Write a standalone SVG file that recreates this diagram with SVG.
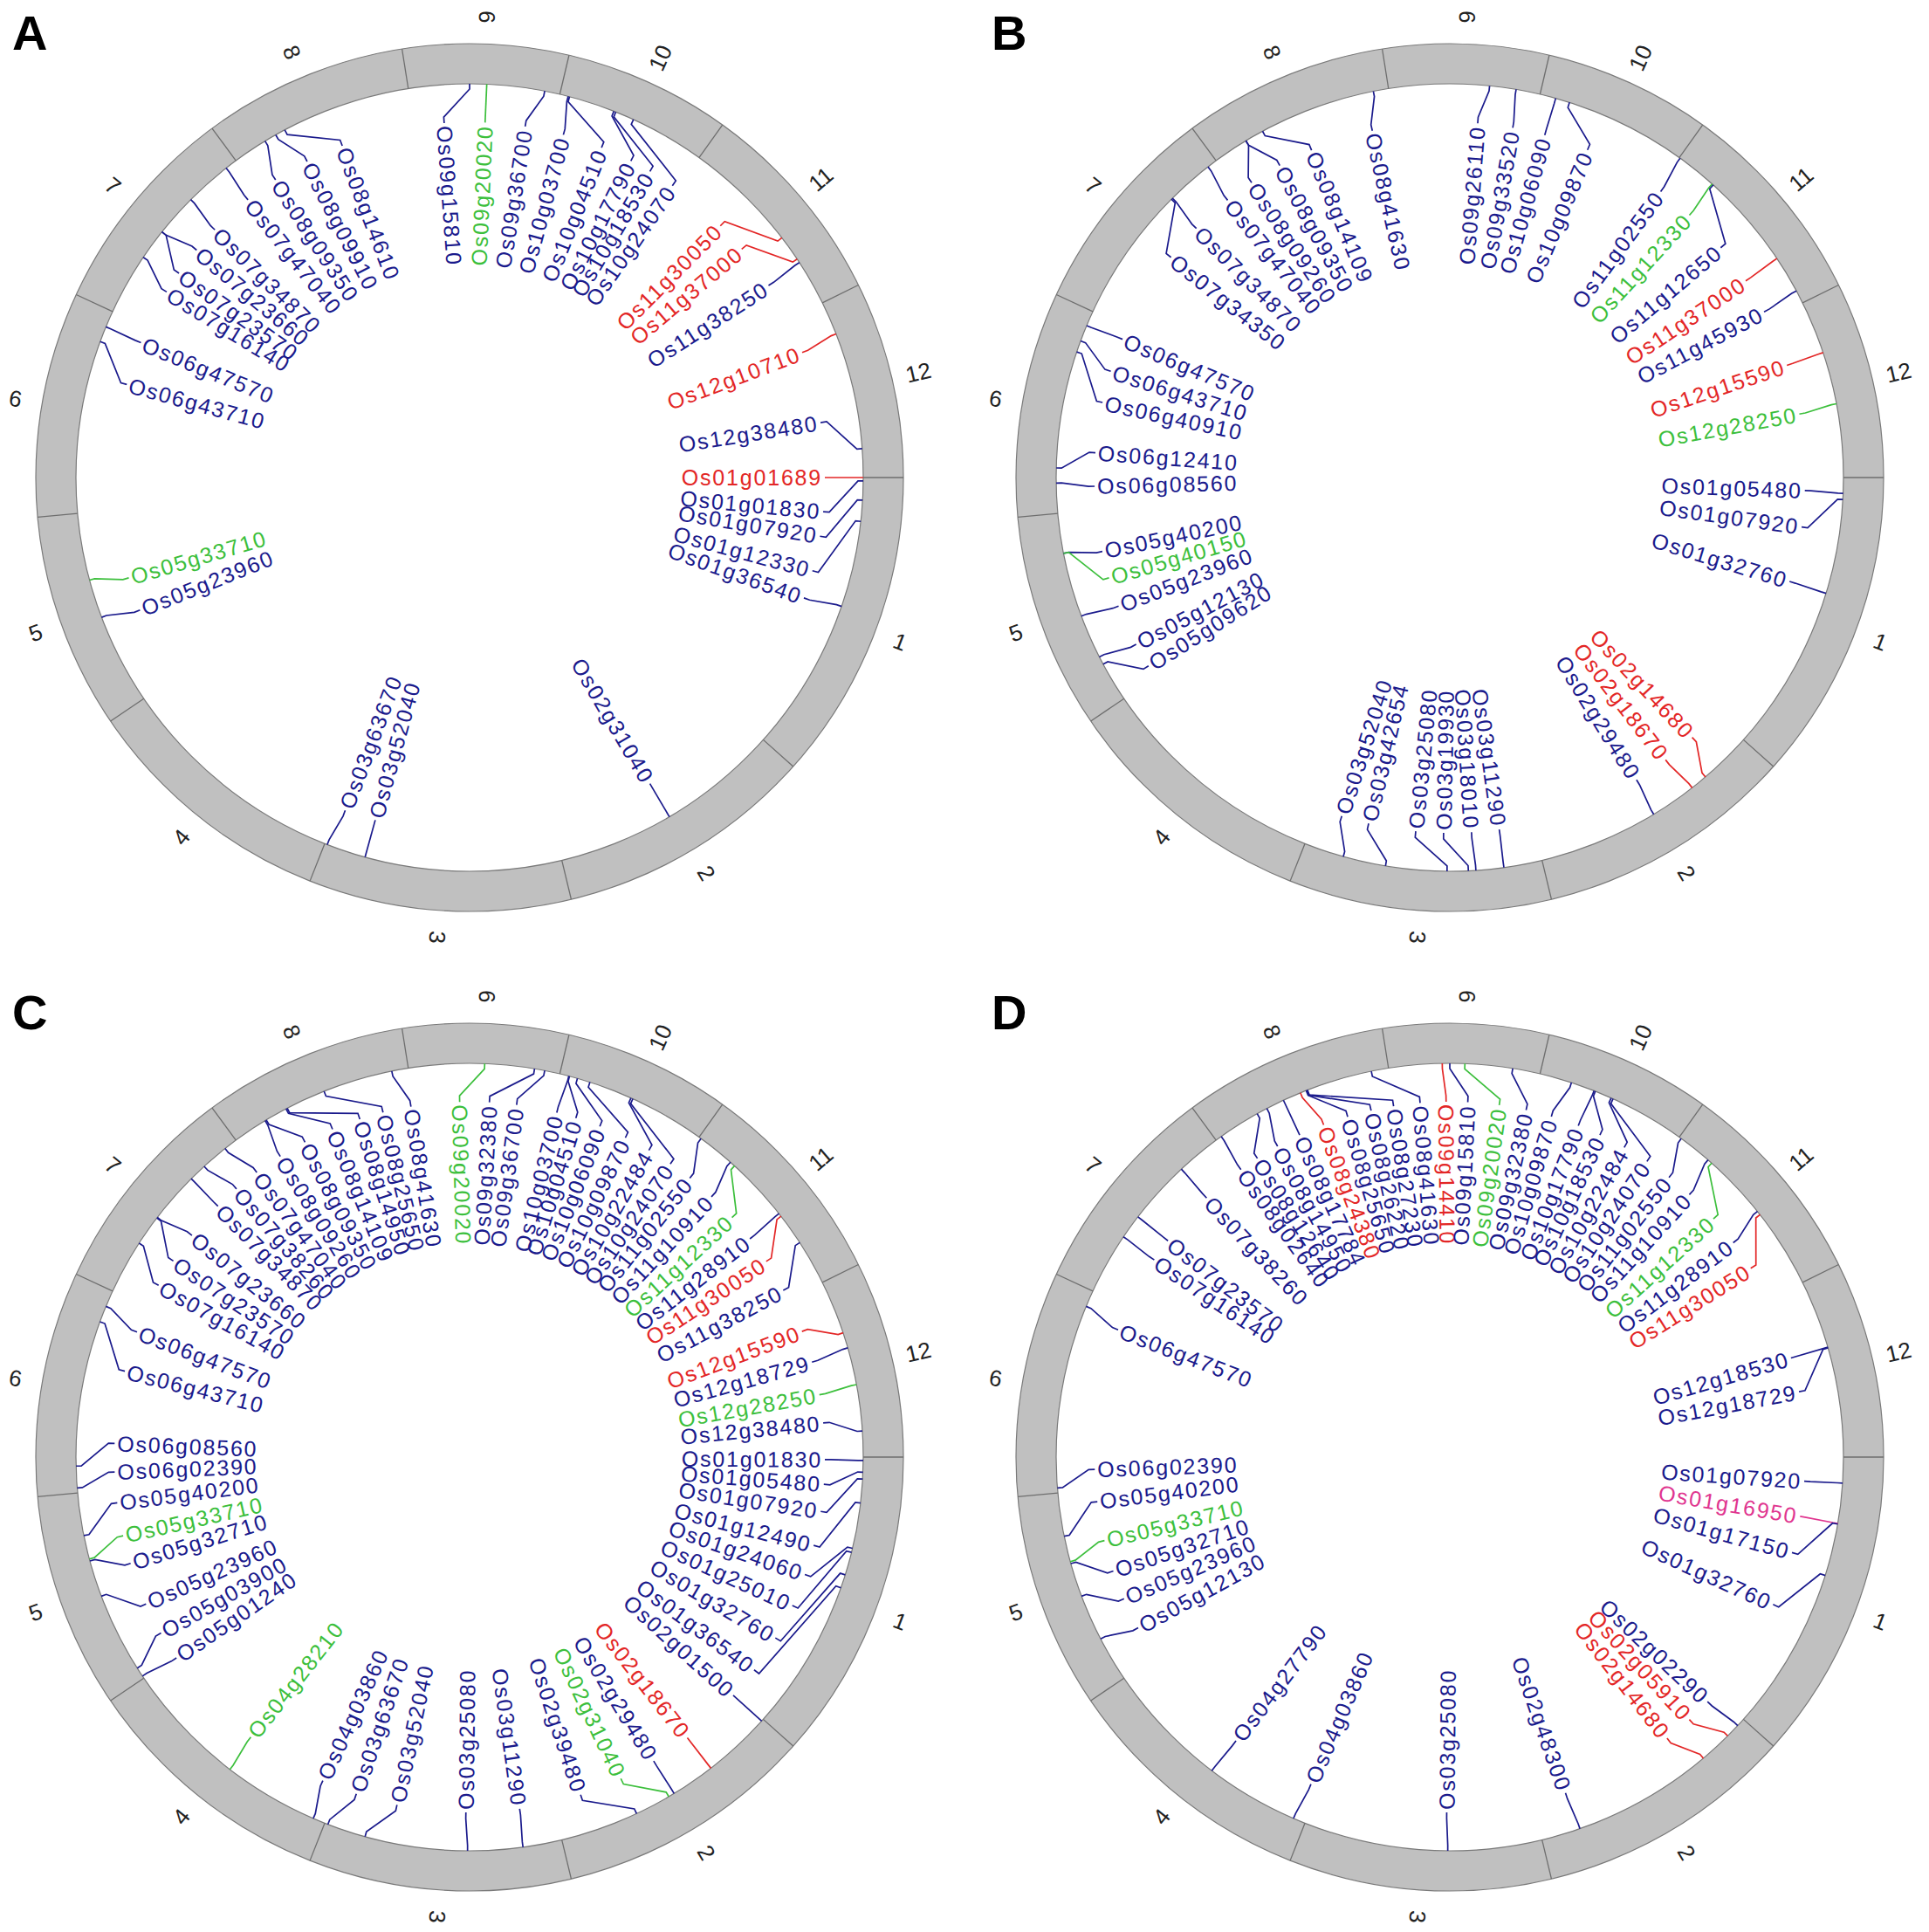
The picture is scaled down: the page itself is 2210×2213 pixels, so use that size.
<svg xmlns="http://www.w3.org/2000/svg" xmlns:xlink="http://www.w3.org/1999/xlink" width="2210" height="2213" viewBox="0 0 2210 2213">
<style>
text{font-family:"Liberation Sans",Arial,sans-serif}
.t{font-size:25px;dominant-baseline:central;letter-spacing:1.8px}
.R{text-anchor:end}.L{text-anchor:start}
.b{fill:#1a1a8c}.r{fill:#e32626}.g{fill:#3cbf3c}.m{fill:#e0358f}
path.c{fill:none;stroke-width:1.7}
.kb{stroke:#1a1a8c}.kr{stroke:#e32626}.kg{stroke:#3cbf3c}.km{stroke:#e0358f}
.pl{font-size:56px;font-weight:bold;fill:#000}
</style>
<defs>
<g id="ring">
<circle r="474" fill="none" stroke="#c0c0c0" stroke-width="46"/>
<circle r="451" fill="none" stroke="#7a7a7a" stroke-width="1.2"/>
<circle r="497" fill="none" stroke="#7a7a7a" stroke-width="1.2"/>
<g stroke="#6e6e6e" stroke-width="1.3">
<path d="M451 0H497"/>
<path d="M451 0H497" transform="rotate(41.76)"/>
<path d="M451 0H497" transform="rotate(76.45)"/>
<path d="M451 0H497" transform="rotate(111.59)"/>
<path d="M451 0H497" transform="rotate(145.85)"/>
<path d="M451 0H497" transform="rotate(174.77)"/>
<path d="M451 0H497" transform="rotate(204.93)"/>
<path d="M451 0H497" transform="rotate(233.59)"/>
<path d="M451 0H497" transform="rotate(261.04)"/>
<path d="M451 0H497" transform="rotate(283.25)"/>
<path d="M451 0H497" transform="rotate(305.65)"/>
<path d="M451 0H497" transform="rotate(333.66)"/>
</g>
<g font-family="Liberation Sans, Arial, sans-serif" font-size="26" fill="#222" text-anchor="middle" dominant-baseline="central">
<text transform="rotate(20.88) translate(528 0)">1</text>
<text transform="rotate(59.1) translate(528 0)">2</text>
<text transform="rotate(94.02) translate(528 0)">3</text>
<text transform="rotate(128.72) translate(528 0) rotate(180)">4</text>
<text transform="rotate(160.31) translate(528 0) rotate(180)">5</text>
<text transform="rotate(189.85) translate(528 0) rotate(180)">6</text>
<text transform="rotate(219.26) translate(528 0) rotate(180)">7</text>
<text transform="rotate(247.31) translate(528 0) rotate(180)">8</text>
<text transform="rotate(272.14) translate(528 0)">9</text>
<text transform="rotate(294.45) translate(528 0)">10</text>
<text transform="rotate(319.65) translate(528 0)">11</text>
<text transform="rotate(346.83) translate(528 0)">12</text>
</g>
</g>
</defs>
<rect width="2210" height="2213" fill="#fff"/>

<text class="pl" x="14" y="57">A</text>
<text class="pl" x="1136" y="57">B</text>
<text class="pl" x="14" y="1179">C</text>
<text class="pl" x="1136" y="1179">D</text>

<!-- PANEL A -->
<g id="panelA" transform="translate(538 547)">
<use xlink:href="#ring" href="#ring"/>
<g id="A-links">
<path class="c kb" transform="rotate(270)" d="M451 0H445L412.9 -29.6L406 -29.1"/>
<path class="c kg" transform="rotate(272.5)" d="M451 0H407"/>
<path class="c kb" transform="rotate(281)" d="M451 0H445L413.7 -14.4L406.8 -14.2"/>
<path class="c kb" transform="rotate(284.5)" d="M451 0H445L414 5.8L407 5.7"/>
<path class="c kb" transform="rotate(284.7)" d="M451 0H445L410.8 51.2L403.9 50.3"/>
<path class="c kb" transform="rotate(291.5)" d="M451 0H445L412.1 39.7L405.1 39"/>
<path class="c kb" transform="rotate(291.8)" d="M451 0H445L409.2 62.6L402.3 61.6"/>
<path class="c kb" transform="rotate(294.6)" d="M451 0H445L407.5 73.3L400.6 72.1"/>
<path class="c kr" transform="rotate(322.5)" d="M451 0H445L410.4 -54.8L403.4 -53.8"/>
<path class="c kr" transform="rotate(326.3)" d="M451 0H445L411.5 -45.4L404.5 -44.7"/>
<path class="c kb" transform="rotate(326.9)" d="M451 0H445L414 2.9L407 2.8"/>
<path class="c kr" transform="rotate(338.6)" d="M451 0H445L414 5.8L407 5.7"/>
<path class="c kb" transform="rotate(355.8)" d="M451 0H445L412.6 -33.9L405.6 -33.3"/>
<path class="c kr" d="M451 0H407"/>
<path class="c kb" transform="rotate(0.5)" d="M451 0H445L412.4 36.1L405.4 35.5"/>
<path class="c kb" transform="rotate(3.3)" d="M451 0H445L411.6 44.7L404.6 44"/>
<path class="c kb" transform="rotate(6.4)" d="M451 0H445L409.1 63.3L402.2 62.3"/>
<path class="c kb" transform="rotate(19.1)" d="M451 0H445L414 5.1L407 5"/>
<path class="c kb" transform="rotate(59.5)" d="M451 0H407"/>
<path class="c kb" transform="rotate(105.4)" d="M451 0H407"/>
<path class="c kb" transform="rotate(111.2)" d="M451 0H445L414 -5.1L407 -5"/>
<path class="c kb" transform="rotate(159.2)" d="M451 0H445L413.9 -7.9L406.9 -7.8"/>
<path class="c kg" transform="rotate(164.9)" d="M451 0H445L413.9 -9.4L406.9 -9.2"/>
<path class="c kb" transform="rotate(200.2)" d="M451 0H445L412.4 -36.1L405.4 -35.5"/>
<path class="c kb" transform="rotate(202.5)" d="M451 0H445L414 -1.4L407 -1.4"/>
<path class="c kb" transform="rotate(214)" d="M451 0H445L413.6 -18.1L406.6 -17.8"/>
<path class="c kb" transform="rotate(218.6)" d="M451 0H445L413.2 -25.3L406.2 -24.8"/>
<path class="c kb" transform="rotate(218.6)" d="M451 0H445L413.9 8.7L406.9 8.5"/>
<path class="c kb" transform="rotate(224.9)" d="M451 0H445L414 -5.1L407 -5"/>
<path class="c kb" transform="rotate(231.8)" d="M451 0H445L414 -2.9L407 -2.8"/>
<path class="c kb" transform="rotate(238.7)" d="M451 0H445L413.8 -13L406.8 -12.8"/>
<path class="c kb" transform="rotate(240.5)" d="M451 0H445L413.7 16.6L406.7 16.3"/>
<path class="c kb" transform="rotate(242)" d="M451 0H445L410.9 50.5L404 49.6"/>
</g>
<g id="A-Os09g15810"><text class="t L b" transform="rotate(85.9)" x="-404">Os09g15810</text></g>
<g id="A-Os09g20020"><text class="t R g" transform="rotate(-87.5)" x="404">Os09g20020</text></g>
<g id="A-Os09g36700"><text class="t R b" transform="rotate(-81)" x="404">Os09g36700</text></g>
<g id="A-Os10g03700"><text class="t R b" transform="rotate(-74.7)" x="404">Os10g03700</text></g>
<g id="A-Os10g04510"><text class="t R b" transform="rotate(-68.2)" x="404">Os10g04510</text></g>
<g id="A-Os10g17790"><text class="t R b" transform="rotate(-63)" x="404">Os10g17790</text></g>
<g id="A-Os10g18530"><text class="t R b" transform="rotate(-59.5)" x="404">Os10g18530</text></g>
<g id="A-Os10g24070"><text class="t R b" transform="rotate(-55.2)" x="404">Os10g24070</text></g>
<g id="A-Os11g30050"><text class="t R r" transform="rotate(-45.1)" x="404">Os11g30050</text></g>
<g id="A-Os11g37000"><text class="t R r" transform="rotate(-40)" x="404">Os11g37000</text></g>
<g id="A-Os11g38250"><text class="t R b" transform="rotate(-32.7)" x="404">Os11g38250</text></g>
<g id="A-Os12g10710"><text class="t R r" transform="rotate(-20.6)" x="404">Os12g10710</text></g>
<g id="A-Os12g38480"><text class="t R b" transform="rotate(-8.9)" x="404">Os12g38480</text></g>
<g id="A-Os01g01689"><text class="t R r" x="404">Os01g01689</text></g>
<g id="A-Os01g01830"><text class="t R b" transform="rotate(5.5)" x="404">Os01g01830</text></g>
<g id="A-Os01g07920"><text class="t R b" transform="rotate(9.5)" x="404">Os01g07920</text></g>
<g id="A-Os01g12330"><text class="t R b" transform="rotate(15.2)" x="404">Os01g12330</text></g>
<g id="A-Os01g36540"><text class="t R b" transform="rotate(19.8)" x="404">Os01g36540</text></g>
<g id="A-Os02g31040"><text class="t R b" transform="rotate(59.5)" x="404">Os02g31040</text></g>
<g id="A-Os03g52040"><text class="t L b" transform="rotate(-74.6)" x="-404">Os03g52040</text></g>
<g id="A-Os03g63670"><text class="t L b" transform="rotate(-69.5)" x="-404">Os03g63670</text></g>
<g id="A-Os05g23960"><text class="t L b" transform="rotate(-21.9)" x="-404">Os05g23960</text></g>
<g id="A-Os05g33710"><text class="t L g" transform="rotate(-16.4)" x="-404">Os05g33710</text></g>
<g id="A-Os06g43710"><text class="t L b" transform="rotate(15.2)" x="-404">Os06g43710</text></g>
<g id="A-Os06g47570"><text class="t L b" transform="rotate(22.3)" x="-404">Os06g47570</text></g>
<g id="A-Os07g16140"><text class="t L b" transform="rotate(31.5)" x="-404">Os07g16140</text></g>
<g id="A-Os07g23570"><text class="t L b" transform="rotate(35.1)" x="-404">Os07g23570</text></g>
<g id="A-Os07g23660"><text class="t L b" transform="rotate(39.8)" x="-404">Os07g23660</text></g>
<g id="A-Os07g34870"><text class="t L b" transform="rotate(44.2)" x="-404">Os07g34870</text></g>
<g id="A-Os07g47040"><text class="t L b" transform="rotate(51.4)" x="-404">Os07g47040</text></g>
<g id="A-Os08g09350"><text class="t L b" transform="rotate(56.9)" x="-404">Os08g09350</text></g>
<g id="A-Os08g09910"><text class="t L b" transform="rotate(62.8)" x="-404">Os08g09910</text></g>
<g id="A-Os08g14610"><text class="t L b" transform="rotate(69)" x="-404">Os08g14610</text></g>
</g>

<!-- PANEL B -->
<g id="panelB" transform="translate(1661 547)">
<use xlink:href="#ring" href="#ring"/>
<g id="B-links">
<path class="c kb" transform="rotate(258.8)" d="M451 0H445L413.9 -10.1L406.9 -9.9"/>
<path class="c kb" transform="rotate(241.6)" d="M451 0H445L412.1 39.7L405.1 39"/>
<path class="c kb" transform="rotate(238.8)" d="M451 0H445L413.6 18.8L406.6 18.5"/>
<path class="c kb" transform="rotate(238.8)" d="M451 0H445L413.5 -19.5L406.5 -19.2"/>
<path class="c kb" transform="rotate(232.1)" d="M451 0H445L414 -5.8L407 -5.7"/>
<path class="c kb" transform="rotate(225.2)" d="M451 0H445L414 -5.1L407 -5"/>
<path class="c kb" transform="rotate(225)" d="M451 0H445L411.2 -48.3L404.2 -47.5"/>
<path class="c kb" transform="rotate(202.7)" d="M451 0H445L414 1.4L407 1.4"/>
<path class="c kb" transform="rotate(200.3)" d="M451 0H445L413.5 -20.9L406.5 -20.6"/>
<path class="c kb" transform="rotate(198.6)" d="M451 0H445L411.4 -46.1L404.5 -45.4"/>
<path class="c kb" transform="rotate(181.4)" d="M451 0H445L413.6 18.8L406.6 18.5"/>
<path class="c kb" transform="rotate(179.2)" d="M451 0H445L414 -4.3L407 -4.3"/>
<path class="c kb" transform="rotate(168.9)" d="M451 0H445L413.9 -6.5L406.9 -6.4"/>
<path class="c kg" transform="rotate(168.9)" d="M451 0H445L412.2 -38.2L405.3 -37.6"/>
<path class="c kb" transform="rotate(159.4)" d="M451 0H445L414 -4.3L407 -4.3"/>
<path class="c kb" transform="rotate(152.9)" d="M451 0H445L413.9 -6.5L406.9 -6.4"/>
<path class="c kb" transform="rotate(151.7)" d="M451 0H445L413.1 -26.7L406.2 -26.3"/>
<path class="c kb" transform="rotate(105.7)" d="M451 0H445L413.7 14.4L406.8 14.2"/>
<path class="c kb" transform="rotate(99.4)" d="M451 0H445L413.1 27.4L406.1 27"/>
<path class="c kb" transform="rotate(90.4)" d="M451 0H445L412.4 36.8L405.4 36.2"/>
<path class="c kb" transform="rotate(87.3)" d="M451 0H445L413.1 26.7L406.2 26.3"/>
<path class="c kb" transform="rotate(86.2)" d="M451 0H445L414 2.2L407 2.1"/>
<path class="c kb" transform="rotate(82.1)" d="M451 0H445L414 -0.7L407 -0.7"/>
<path class="c kb" transform="rotate(58.8)" d="M451 0H445L414 -3.6L407 -3.6"/>
<path class="c kr" transform="rotate(52)" d="M451 0H445L414 4.3L407 4.3"/>
<path class="c kr" transform="rotate(49.5)" d="M451 0H445L413.6 -18.1L406.6 -17.8"/>
<path class="c kb" transform="rotate(17.1)" d="M451 0H445L414 -0.7L407 -0.7"/>
<path class="c kb" transform="rotate(3.2)" d="M451 0H445L412.5 34.6L405.6 34.1"/>
<path class="c kb" transform="rotate(2.3)" d="M451 0H445L414 -1.4L407 -1.4"/>
<path class="c kg" transform="rotate(349.2)" d="M451 0H445L414 3.6L407 3.6"/>
<path class="c kr" transform="rotate(341.5)" d="M451 0H445L414 0.7L407 0.7"/>
<path class="c kb" transform="rotate(331.7)" d="M451 0H445L414 3.6L407 3.6"/>
<path class="c kr" transform="rotate(326.2)" d="M451 0H445L414 1.4L407 1.4"/>
<path class="c kb" transform="rotate(312)" d="M451 0H445L410.3 55.5L403.3 54.5"/>
<path class="c kg" transform="rotate(311.8)" d="M451 0H445L414 4.3L407 4.3"/>
<path class="c kb" transform="rotate(305.8)" d="M451 0H445L414 4.3L407 4.3"/>
<path class="c kb" transform="rotate(287.7)" d="M451 0H445L412.4 36.8L405.4 36.2"/>
<path class="c kb" transform="rotate(285.6)" d="M451 0H445L414 -0.7L407 -0.7"/>
<path class="c kb" transform="rotate(279.7)" d="M451 0H445L414 3.6L407 3.6"/>
<path class="c kb" transform="rotate(275.8)" d="M451 0H445L413.9 -9.4L406.9 -9.2"/>
</g>
<g id="B-Os08g41630"><text class="t L b" transform="rotate(77.4)" x="-404">Os08g41630</text></g>
<g id="B-Os08g14109"><text class="t L b" transform="rotate(67.1)" x="-404">Os08g14109</text></g>
<g id="B-Os08g09350"><text class="t L b" transform="rotate(61.4)" x="-404">Os08g09350</text></g>
<g id="B-Os08g09260"><text class="t L b" transform="rotate(56.1)" x="-404">Os08g09260</text></g>
<g id="B-Os07g47040"><text class="t L b" transform="rotate(51.3)" x="-404">Os07g47040</text></g>
<g id="B-Os07g34870"><text class="t L b" transform="rotate(44.5)" x="-404">Os07g34870</text></g>
<g id="B-Os07g34350"><text class="t L b" transform="rotate(38.3)" x="-404">Os07g34350</text></g>
<g id="B-Os06g47570"><text class="t L b" transform="rotate(22.9)" x="-404">Os06g47570</text></g>
<g id="B-Os06g43710"><text class="t L b" transform="rotate(17.4)" x="-404">Os06g43710</text></g>
<g id="B-Os06g40910"><text class="t L b" transform="rotate(12.2)" x="-404">Os06g40910</text></g>
<g id="B-Os06g12410"><text class="t L b" transform="rotate(4)" x="-404">Os06g12410</text></g>
<g id="B-Os06g08560"><text class="t L b" transform="rotate(-1.4)" x="-404">Os06g08560</text></g>
<g id="B-Os05g40200"><text class="t L b" transform="rotate(-12)" x="-404">Os05g40200</text></g>
<g id="B-Os05g40150"><text class="t L g" transform="rotate(-16.4)" x="-404">Os05g40150</text></g>
<g id="B-Os05g23960"><text class="t L b" transform="rotate(-21.2)" x="-404">Os05g23960</text></g>
<g id="B-Os05g12130"><text class="t L b" transform="rotate(-28)" x="-404">Os05g12130</text></g>
<g id="B-Os05g09620"><text class="t L b" transform="rotate(-32)" x="-404">Os05g09620</text></g>
<g id="B-Os03g52040"><text class="t L b" transform="rotate(-72.3)" x="-404">Os03g52040</text></g>
<g id="B-Os03g42654"><text class="t L b" transform="rotate(-76.8)" x="-404">Os03g42654</text></g>
<g id="B-Os03g25080"><text class="t L b" transform="rotate(-84.5)" x="-404">Os03g25080</text></g>
<g id="B-Os03g19930"><text class="t L b" transform="rotate(-89)" x="-404">Os03g19930</text></g>
<g id="B-Os03g18010"><text class="t R b" transform="rotate(86.5)" x="404">Os03g18010</text></g>
<g id="B-Os03g11290"><text class="t R b" transform="rotate(82)" x="404">Os03g11290</text></g>
<g id="B-Os02g29480"><text class="t R b" transform="rotate(58.3)" x="404">Os02g29480</text></g>
<g id="B-Os02g18670"><text class="t R r" transform="rotate(52.6)" x="404">Os02g18670</text></g>
<g id="B-Os02g14680"><text class="t R r" transform="rotate(47)" x="404">Os02g14680</text></g>
<g id="B-Os01g32760"><text class="t R b" transform="rotate(17)" x="404">Os01g32760</text></g>
<g id="B-Os01g07920"><text class="t R b" transform="rotate(8)" x="404">Os01g07920</text></g>
<g id="B-Os01g05480"><text class="t R b" transform="rotate(2.1)" x="404">Os01g05480</text></g>
<g id="B-Os12g28250"><text class="t R g" transform="rotate(-10.3)" x="404">Os12g28250</text></g>
<g id="B-Os12g15590"><text class="t R r" transform="rotate(-18.4)" x="404">Os12g15590</text></g>
<g id="B-Os11g45930"><text class="t R b" transform="rotate(-27.8)" x="404">Os11g45930</text></g>
<g id="B-Os11g37000"><text class="t R r" transform="rotate(-33.6)" x="404">Os11g37000</text></g>
<g id="B-Os11g12650"><text class="t R b" transform="rotate(-40.3)" x="404">Os11g12650</text></g>
<g id="B-Os11g12330"><text class="t R g" transform="rotate(-47.6)" x="404">Os11g12330</text></g>
<g id="B-Os11g02550"><text class="t R b" transform="rotate(-53.6)" x="404">Os11g02550</text></g>
<g id="B-Os10g09870"><text class="t R b" transform="rotate(-67.2)" x="404">Os10g09870</text></g>
<g id="B-Os10g06090"><text class="t R b" transform="rotate(-74.5)" x="404">Os10g06090</text></g>
<g id="B-Os09g33520"><text class="t R b" transform="rotate(-79.8)" x="404">Os09g33520</text></g>
<g id="B-Os09g26110"><text class="t R b" transform="rotate(-85.5)" x="404">Os09g26110</text></g>
</g>

<!-- PANEL C -->
<g id="panelC" transform="translate(538 1669)">
<use xlink:href="#ring" href="#ring"/>
<g id="C-links">
<path class="c kg" transform="rotate(272.2)" d="M451 0H445L413.1 -27.4L406.1 -27"/>
<path class="c kb" transform="rotate(258.6)" d="M451 0H445L413.8 13.7L406.8 13.5"/>
<path class="c kb" transform="rotate(248.3)" d="M451 0H445L410.4 54.8L403.4 53.8"/>
<path class="c kb" transform="rotate(242.4)" d="M451 0H445L408.2 69L401.3 67.9"/>
<path class="c kb" transform="rotate(242.2)" d="M451 0H445L412.4 36.8L405.4 36.2"/>
<path class="c kb" transform="rotate(238.9)" d="M451 0H445L413.2 25.3L406.2 24.8"/>
<path class="c kb" transform="rotate(238.7)" d="M451 0H445L413.9 -6.5L406.9 -6.4"/>
<path class="c kb" transform="rotate(231.6)" d="M451 0H445L413.8 11.6L406.8 11.4"/>
<path class="c kb" transform="rotate(227.6)" d="M451 0H445L413.9 10.1L406.9 9.9"/>
<path class="c kb" transform="rotate(225)" d="M451 0H445L414 -0.7L407 -0.7"/>
<path class="c kb" transform="rotate(217.5)" d="M451 0H445L413.9 7.9L406.9 7.8"/>
<path class="c kb" transform="rotate(217.4)" d="M451 0H445L413 -28.2L406.1 -27.7"/>
<path class="c kb" transform="rotate(212.9)" d="M451 0H445L413 -28.9L406 -28.4"/>
<path class="c kb" transform="rotate(202.5)" d="M451 0H445L413.8 -13.7L406.8 -13.5"/>
<path class="c kb" transform="rotate(200.1)" d="M451 0H445L411.7 -44L404.7 -43.3"/>
<path class="c kb" transform="rotate(178.7)" d="M451 0H445L413.2 25.3L406.2 24.8"/>
<path class="c kb" transform="rotate(175.5)" d="M451 0H445L413.7 15.2L406.7 14.9"/>
<path class="c kb" transform="rotate(168.5)" d="M451 0H445L412.9 29.6L406 29.1"/>
<path class="c kg" transform="rotate(165)" d="M451 0H445L413.7 15.9L406.7 15.6"/>
<path class="c kb" transform="rotate(164.7)" d="M451 0H445L413.7 -15.2L406.7 -14.9"/>
<path class="c kb" transform="rotate(159.3)" d="M451 0H445L413.1 -26.7L406.2 -26.3"/>
<path class="c kb" transform="rotate(147.6)" d="M451 0H445L413.5 19.5L406.5 19.2"/>
<path class="c kb" transform="rotate(146.2)" d="M451 0H445L414 -4.3L407 -4.3"/>
<path class="c kg" transform="rotate(127.5)" d="M451 0H445L414 3.6L407 3.6"/>
<path class="c kb" transform="rotate(113.4)" d="M451 0H445L413.9 7.2L406.9 7.1"/>
<path class="c kb" transform="rotate(111.1)" d="M451 0H445L413.6 -18.1L406.6 -17.8"/>
<path class="c kb" transform="rotate(105.4)" d="M451 0H445L413.2 -26L406.2 -25.6"/>
<path class="c kb" transform="rotate(90.3)" d="M451 0H445L414 2.2L407 2.1"/>
<path class="c kb" transform="rotate(82.2)" d="M451 0H445L414 -2.2L407 -2.1"/>
<path class="c kb" transform="rotate(64.9)" d="M451 0H445L411 49.7L404.1 48.9"/>
<path class="c kg" transform="rotate(59.6)" d="M451 0H445L412.3 37.5L405.3 36.9"/>
<path class="c kb" transform="rotate(58.7)" d="M451 0H445L414 0.7L407 0.7"/>
<path class="c kr" transform="rotate(52.2)" d="M451 0H407"/>
<path class="c kb" transform="rotate(42.1)" d="M451 0H407"/>
<path class="c kb" transform="rotate(19.4)" d="M451 0H445L395.1 123.8L388.4 121.7"/>
<path class="c kb" transform="rotate(17.4)" d="M451 0H445L403 94.5L396.2 92.9"/>
<path class="c kb" transform="rotate(14)" d="M451 0H445L406.8 76.9L399.9 75.6"/>
<path class="c kb" transform="rotate(13.4)" d="M451 0H445L411.8 42.6L404.8 41.8"/>
<path class="c kb" transform="rotate(6.7)" d="M451 0H445L410.3 55.5L403.3 54.5"/>
<path class="c kb" transform="rotate(3.2)" d="M451 0H445L412 40.4L405.1 39.7"/>
<path class="c kb" transform="rotate(2.2)" d="M451 0H445L413.7 15.9L406.7 15.6"/>
<path class="c kb" transform="rotate(0.5)" d="M451 0H445L414 -0.7L407 -0.7"/>
<path class="c kb" transform="rotate(356.2)" d="M451 0H445L413.8 -12.3L406.8 -12.1"/>
<path class="c kg" transform="rotate(349.4)" d="M451 0H445L414 3.6L407 3.6"/>
<path class="c kb" transform="rotate(343.9)" d="M451 0H445L414 4.3L407 4.3"/>
<path class="c kr" transform="rotate(341.6)" d="M451 0H445L413.7 -16.6L406.7 -16.3"/>
<path class="c kb" transform="rotate(327)" d="M451 0H445L412.4 36.1L405.4 35.5"/>
<path class="c kr" transform="rotate(322.3)" d="M451 0H445L412.8 31L405.9 30.5"/>
<path class="c kb" transform="rotate(321.8)" d="M451 0H445L414 2.2L407 2.1"/>
<path class="c kg" transform="rotate(312.3)" d="M451 0H445L412.2 38.2L405.3 37.6"/>
<path class="c kb" transform="rotate(311.5)" d="M451 0H445L413.9 10.1L406.9 9.9"/>
<path class="c kb" transform="rotate(306)" d="M451 0H445L413.7 16.6L406.7 16.3"/>
<path class="c kb" transform="rotate(294.5)" d="M451 0H445L407.8 71.2L400.9 70"/>
<path class="c kb" transform="rotate(294.2)" d="M451 0H445L411.7 44L404.7 43.3"/>
<path class="c kb" transform="rotate(287.8)" d="M451 0H445L409.8 59L402.8 58.1"/>
<path class="c kb" transform="rotate(285.9)" d="M451 0H445L412 40.4L405.1 39.7"/>
<path class="c kb" transform="rotate(284.7)" d="M451 0H445L413.5 19.5L406.5 19.2"/>
<path class="c kb" transform="rotate(284.6)" d="M451 0H445L414 -2.9L407 -2.8"/>
<path class="c kb" transform="rotate(281)" d="M451 0H445L413.3 -24.6L406.3 -24.1"/>
<path class="c kb" transform="rotate(279.5)" d="M451 0H445L411.5 -45.4L404.5 -44.7"/>
</g>
<g id="C-Os09g20020"><text class="t L g" transform="rotate(88.4)" x="-404">Os09g20020</text></g>
<g id="C-Os08g41630"><text class="t L b" transform="rotate(80.5)" x="-404">Os08g41630</text></g>
<g id="C-Os08g25650"><text class="t L b" transform="rotate(75.9)" x="-404">Os08g25650</text></g>
<g id="C-Os08g14950"><text class="t L b" transform="rotate(72)" x="-404">Os08g14950</text></g>
<g id="C-Os08g14109"><text class="t L b" transform="rotate(67.3)" x="-404">Os08g14109</text></g>
<g id="C-Os08g09350"><text class="t L b" transform="rotate(62.4)" x="-404">Os08g09350</text></g>
<g id="C-Os08g09260"><text class="t L b" transform="rotate(57.8)" x="-404">Os08g09260</text></g>
<g id="C-Os07g47040"><text class="t L b" transform="rotate(53.2)" x="-404">Os07g47040</text></g>
<g id="C-Os07g38260"><text class="t L b" transform="rotate(49)" x="-404">Os07g38260</text></g>
<g id="C-Os07g34870"><text class="t L b" transform="rotate(44.9)" x="-404">Os07g34870</text></g>
<g id="C-Os07g23660"><text class="t L b" transform="rotate(38.6)" x="-404">Os07g23660</text></g>
<g id="C-Os07g23570"><text class="t L b" transform="rotate(33.5)" x="-404">Os07g23570</text></g>
<g id="C-Os07g16140"><text class="t L b" transform="rotate(28.9)" x="-404">Os07g16140</text></g>
<g id="C-Os06g47570"><text class="t L b" transform="rotate(20.6)" x="-404">Os06g47570</text></g>
<g id="C-Os06g43710"><text class="t L b" transform="rotate(14)" x="-404">Os06g43710</text></g>
<g id="C-Os06g08560"><text class="t L b" transform="rotate(2.2)" x="-404">Os06g08560</text></g>
<g id="C-Os06g02390"><text class="t L b" transform="rotate(-2.4)" x="-404">Os06g02390</text></g>
<g id="C-Os05g40200"><text class="t L b" transform="rotate(-7.4)" x="-404">Os05g40200</text></g>
<g id="C-Os05g33710"><text class="t L g" transform="rotate(-12.8)" x="-404">Os05g33710</text></g>
<g id="C-Os05g32710"><text class="t L b" transform="rotate(-17.4)" x="-404">Os05g32710</text></g>
<g id="C-Os05g23960"><text class="t L b" transform="rotate(-24.4)" x="-404">Os05g23960</text></g>
<g id="C-Os05g03900"><text class="t L b" transform="rotate(-29.7)" x="-404">Os05g03900</text></g>
<g id="C-Os05g01240"><text class="t L b" transform="rotate(-34.4)" x="-404">Os05g01240</text></g>
<g id="C-Os04g28210"><text class="t L g" transform="rotate(-52)" x="-404">Os04g28210</text></g>
<g id="C-Os04g03860"><text class="t L b" transform="rotate(-65.6)" x="-404">Os04g03860</text></g>
<g id="C-Os03g63670"><text class="t L b" transform="rotate(-71.4)" x="-404">Os03g63670</text></g>
<g id="C-Os03g52040"><text class="t L b" transform="rotate(-78.2)" x="-404">Os03g52040</text></g>
<g id="C-Os03g25080"><text class="t L b" transform="rotate(-89.4)" x="-404">Os03g25080</text></g>
<g id="C-Os03g11290"><text class="t R b" transform="rotate(81.9)" x="404">Os03g11290</text></g>
<g id="C-Os02g39480"><text class="t R b" transform="rotate(71.8)" x="404">Os02g39480</text></g>
<g id="C-Os02g31040"><text class="t R g" transform="rotate(64.8)" x="404">Os02g31040</text></g>
<g id="C-Os02g29480"><text class="t R b" transform="rotate(58.8)" x="404">Os02g29480</text></g>
<g id="C-Os02g18670"><text class="t R r" transform="rotate(52.2)" x="404">Os02g18670</text></g>
<g id="C-Os02g01500"><text class="t R b" transform="rotate(42.1)" x="404">Os02g01500</text></g>
<g id="C-Os01g36540"><text class="t R b" transform="rotate(36.8)" x="404">Os01g36540</text></g>
<g id="C-Os01g32760"><text class="t R b" transform="rotate(30.6)" x="404">Os01g32760</text></g>
<g id="C-Os01g25010"><text class="t R b" transform="rotate(24.7)" x="404">Os01g25010</text></g>
<g id="C-Os01g24060"><text class="t R b" transform="rotate(19.3)" x="404">Os01g24060</text></g>
<g id="C-Os01g12490"><text class="t R b" transform="rotate(14.4)" x="404">Os01g12490</text></g>
<g id="C-Os01g07920"><text class="t R b" transform="rotate(8.8)" x="404">Os01g07920</text></g>
<g id="C-Os01g05480"><text class="t R b" transform="rotate(4.4)" x="404">Os01g05480</text></g>
<g id="C-Os01g01830"><text class="t R b" transform="rotate(0.4)" x="404">Os01g01830</text></g>
<g id="C-Os12g38480"><text class="t R b" transform="rotate(-5.5)" x="404">Os12g38480</text></g>
<g id="C-Os12g28250"><text class="t R g" transform="rotate(-10.1)" x="404">Os12g28250</text></g>
<g id="C-Os12g18729"><text class="t R b" transform="rotate(-15.5)" x="404">Os12g18729</text></g>
<g id="C-Os12g15590"><text class="t R r" transform="rotate(-20.7)" x="404">Os12g15590</text></g>
<g id="C-Os11g38250"><text class="t R b" transform="rotate(-28)" x="404">Os11g38250</text></g>
<g id="C-Os11g30050"><text class="t R r" transform="rotate(-33.4)" x="404">Os11g30050</text></g>
<g id="C-Os11g28910"><text class="t R b" transform="rotate(-37.9)" x="404">Os11g28910</text></g>
<g id="C-Os11g12330"><text class="t R g" transform="rotate(-42.4)" x="404">Os11g12330</text></g>
<g id="C-Os11g10910"><text class="t R b" transform="rotate(-47.1)" x="404">Os11g10910</text></g>
<g id="C-Os11g02550"><text class="t R b" transform="rotate(-51.7)" x="404">Os11g02550</text></g>
<g id="C-Os10g24070"><text class="t R b" transform="rotate(-55.6)" x="404">Os10g24070</text></g>
<g id="C-Os10g22484"><text class="t R b" transform="rotate(-59.7)" x="404">Os10g22484</text></g>
<g id="C-Os10g09870"><text class="t R b" transform="rotate(-64)" x="404">Os10g09870</text></g>
<g id="C-Os10g06090"><text class="t R b" transform="rotate(-68.5)" x="404">Os10g06090</text></g>
<g id="C-Os10g04510"><text class="t R b" transform="rotate(-72.6)" x="404">Os10g04510</text></g>
<g id="C-Os10g03700"><text class="t R b" transform="rotate(-75.8)" x="404">Os10g03700</text></g>
<g id="C-Os09g36700"><text class="t R b" transform="rotate(-82.4)" x="404">Os09g36700</text></g>
<g id="C-Os09g32380"><text class="t R b" transform="rotate(-86.8)" x="404">Os09g32380</text></g>
</g>

<!-- PANEL D -->
<g id="panelD" transform="translate(1661 1669)">
<use xlink:href="#ring" href="#ring"/>
<g id="D-links">
<path class="c kr" transform="rotate(268.9)" d="M451 0H445L414 3.6L407 3.6"/>
<path class="c kb" transform="rotate(270)" d="M451 0H445L413.5 20.9L406.5 20.6"/>
<path class="c kg" transform="rotate(272.2)" d="M451 0H445L411.9 41.8L404.9 41.1"/>
<path class="c kb" transform="rotate(279.2)" d="M451 0H445L413.4 23.1L406.4 22.7"/>
<path class="c kb" transform="rotate(288)" d="M451 0H445L413.9 -10.1L406.9 -9.9"/>
<path class="c kb" transform="rotate(291.5)" d="M451 0H445L414 -2.2L407 -2.1"/>
<path class="c kb" transform="rotate(291.7)" d="M451 0H445L413.3 23.8L406.3 23.4"/>
<path class="c kb" transform="rotate(294.2)" d="M451 0H445L412.3 37.5L405.3 36.9"/>
<path class="c kb" transform="rotate(294.5)" d="M451 0H445L408.7 66.2L401.8 65.1"/>
<path class="c kb" transform="rotate(306)" d="M451 0H445L413.7 15.2L406.7 14.9"/>
<path class="c kb" transform="rotate(311)" d="M451 0H445L413.9 10.1L406.9 9.9"/>
<path class="c kg" transform="rotate(311.7)" d="M451 0H445L411.6 44.7L404.6 44"/>
<path class="c kb" transform="rotate(321.4)" d="M451 0H445L413.9 10.8L406.9 10.7"/>
<path class="c kr" transform="rotate(322)" d="M451 0H445L411.8 42.6L404.8 41.8"/>
<path class="c kb" transform="rotate(343.8)" d="M451 0H407"/>
<path class="c kb" transform="rotate(343.9)" d="M451 0H445L412.1 39.7L405.1 39"/>
<path class="c kb" transform="rotate(3.8)" d="M451 0H445L414 0.7L407 0.7"/>
<path class="c km" transform="rotate(9.7)" d="M451 0H445L414 -0.7L407 -0.7"/>
<path class="c kb" transform="rotate(9.8)" d="M451 0H445L411.9 41.8L404.9 41.1"/>
<path class="c kb" transform="rotate(17.5)" d="M451 0H445L410.9 50.5L404 49.6"/>
<path class="c kb" transform="rotate(43)" d="M451 0H445L414 3.6L407 3.6"/>
<path class="c kr" transform="rotate(45.1)" d="M451 0H445L413.6 18.1L406.6 17.8"/>
<path class="c kr" transform="rotate(49.9)" d="M451 0H445L413.6 17.3L406.6 17"/>
<path class="c kb" transform="rotate(70.7)" d="M451 0H445L414 2.2L407 2.1"/>
<path class="c kb" transform="rotate(90.3)" d="M451 0H445L414 1.4L407 1.4"/>
<path class="c kb" transform="rotate(113.4)" d="M451 0H445L414 -2.9L407 -2.8"/>
<path class="c kb" transform="rotate(127.2)" d="M451 0H445L414 -1.4L407 -1.4"/>
<path class="c kb" transform="rotate(152.5)" d="M451 0H445L413.9 -8.7L406.9 -8.5"/>
<path class="c kb" transform="rotate(159.3)" d="M451 0H445L413.5 -20.2L406.5 -19.9"/>
<path class="c kb" transform="rotate(164.3)" d="M451 0H445L413.4 -21.7L406.4 -21.3"/>
<path class="c kg" transform="rotate(164.6)" d="M451 0H445L413.8 13L406.8 12.8"/>
<path class="c kb" transform="rotate(168.4)" d="M451 0H445L412.8 31.8L405.8 31.2"/>
<path class="c kb" transform="rotate(175.5)" d="M451 0H445L413.6 18.1L406.6 17.8"/>
<path class="c kb" transform="rotate(202.5)" d="M451 0H445L413.9 -10.8L406.9 -10.7"/>
<path class="c kb" transform="rotate(214)" d="M451 0H445L414 -2.2L407 -2.1"/>
<path class="c kb" transform="rotate(217.6)" d="M451 0H445L414 -0.7L407 -0.7"/>
<path class="c kb" transform="rotate(227)" d="M451 0H445L414 -1.4L407 -1.4"/>
<path class="c kb" transform="rotate(234.5)" d="M451 0H445L414 -3.6L407 -3.6"/>
<path class="c kb" transform="rotate(240.7)" d="M451 0H445L413.2 -25.3L406.2 -24.8"/>
<path class="c kb" transform="rotate(242.3)" d="M451 0H445L413.9 -9.4L406.9 -9.2"/>
<path class="c kb" transform="rotate(245)" d="M451 0H407"/>
<path class="c kr" transform="rotate(247.7)" d="M451 0H445L413.9 10.8L406.9 10.7"/>
<path class="c kb" transform="rotate(248.6)" d="M451 0H445L412.6 33.9L405.6 33.3"/>
<path class="c kb" transform="rotate(248.7)" d="M451 0H445L409.5 61.2L402.5 60.2"/>
<path class="c kb" transform="rotate(248.8)" d="M451 0H445L404.8 86.8L398 85.3"/>
<path class="c kb" transform="rotate(258.5)" d="M451 0H445L411.2 48.3L404.2 47.5"/>
</g>
<g id="D-Os09g14410"><text class="t L r" transform="rotate(89.4)" x="-404">Os09g14410</text></g>
<g id="D-Os09g15810"><text class="t R b" transform="rotate(-87.1)" x="404">Os09g15810</text></g>
<g id="D-Os09g20020"><text class="t R g" transform="rotate(-82)" x="404">Os09g20020</text></g>
<g id="D-Os09g32380"><text class="t R b" transform="rotate(-77.6)" x="404">Os09g32380</text></g>
<g id="D-Os10g09870"><text class="t R b" transform="rotate(-73.4)" x="404">Os10g09870</text></g>
<g id="D-Os10g17790"><text class="t R b" transform="rotate(-68.8)" x="404">Os10g17790</text></g>
<g id="D-Os10g18530"><text class="t R b" transform="rotate(-65)" x="404">Os10g18530</text></g>
<g id="D-Os10g22484"><text class="t R b" transform="rotate(-60.6)" x="404">Os10g22484</text></g>
<g id="D-Os10g24070"><text class="t R b" transform="rotate(-56.3)" x="404">Os10g24070</text></g>
<g id="D-Os11g02550"><text class="t R b" transform="rotate(-51.9)" x="404">Os11g02550</text></g>
<g id="D-Os11g10910"><text class="t R b" transform="rotate(-47.6)" x="404">Os11g10910</text></g>
<g id="D-Os11g12330"><text class="t R g" transform="rotate(-42.1)" x="404">Os11g12330</text></g>
<g id="D-Os11g28910"><text class="t R b" transform="rotate(-37.1)" x="404">Os11g28910</text></g>
<g id="D-Os11g30050"><text class="t R r" transform="rotate(-32.1)" x="404">Os11g30050</text></g>
<g id="D-Os12g18530"><text class="t R b" transform="rotate(-16.2)" x="404">Os12g18530</text></g>
<g id="D-Os12g18729"><text class="t R b" transform="rotate(-10.6)" x="404">Os12g18729</text></g>
<g id="D-Os01g07920"><text class="t R b" transform="rotate(3.9)" x="404">Os01g07920</text></g>
<g id="D-Os01g16950"><text class="t R m" transform="rotate(9.6)" x="404">Os01g16950</text></g>
<g id="D-Os01g17150"><text class="t R b" transform="rotate(15.6)" x="404">Os01g17150</text></g>
<g id="D-Os01g32760"><text class="t R b" transform="rotate(24.5)" x="404">Os01g32760</text></g>
<g id="D-Os02g02290"><text class="t R b" transform="rotate(43.5)" x="404">Os02g02290</text></g>
<g id="D-Os02g05910"><text class="t R r" transform="rotate(47.6)" x="404">Os02g05910</text></g>
<g id="D-Os02g14680"><text class="t R r" transform="rotate(52.3)" x="404">Os02g14680</text></g>
<g id="D-Os02g48300"><text class="t R b" transform="rotate(71)" x="404">Os02g48300</text></g>
<g id="D-Os03g25080"><text class="t L b" transform="rotate(-89.5)" x="-404">Os03g25080</text></g>
<g id="D-Os04g03860"><text class="t L b" transform="rotate(-67)" x="-404">Os04g03860</text></g>
<g id="D-Os04g27790"><text class="t L b" transform="rotate(-53)" x="-404">Os04g27790</text></g>
<g id="D-Os05g12130"><text class="t L b" transform="rotate(-28.7)" x="-404">Os05g12130</text></g>
<g id="D-Os05g23960"><text class="t L b" transform="rotate(-23.5)" x="-404">Os05g23960</text></g>
<g id="D-Os05g32710"><text class="t L b" transform="rotate(-18.7)" x="-404">Os05g32710</text></g>
<g id="D-Os05g33710"><text class="t L g" transform="rotate(-13.6)" x="-404">Os05g33710</text></g>
<g id="D-Os05g40200"><text class="t L b" transform="rotate(-7.2)" x="-404">Os05g40200</text></g>
<g id="D-Os06g02390"><text class="t L b" transform="rotate(-2)" x="-404">Os06g02390</text></g>
<g id="D-Os06g47570"><text class="t L b" transform="rotate(21)" x="-404">Os06g47570</text></g>
<g id="D-Os07g16140"><text class="t L b" transform="rotate(33.7)" x="-404">Os07g16140</text></g>
<g id="D-Os07g23570"><text class="t L b" transform="rotate(37.5)" x="-404">Os07g23570</text></g>
<g id="D-Os07g38260"><text class="t L b" transform="rotate(46.8)" x="-404">Os07g38260</text></g>
<g id="D-Os08g02640"><text class="t L b" transform="rotate(54)" x="-404">Os08g02640</text></g>
<g id="D-Os08g12640"><text class="t L b" transform="rotate(57.2)" x="-404">Os08g12640</text></g>
<g id="D-Os08g14950"><text class="t L b" transform="rotate(61)" x="-404">Os08g14950</text></g>
<g id="D-Os08g17784"><text class="t L b" transform="rotate(65)" x="-404">Os08g17784</text></g>
<g id="D-Os08g24380"><text class="t L r" transform="rotate(69.2)" x="-404">Os08g24380</text></g>
<g id="D-Os08g25650"><text class="t L b" transform="rotate(73.3)" x="-404">Os08g25650</text></g>
<g id="D-Os08g26220"><text class="t L b" transform="rotate(77.2)" x="-404">Os08g26220</text></g>
<g id="D-Os08g27230"><text class="t L b" transform="rotate(80.9)" x="-404">Os08g27230</text></g>
<g id="D-Os08g41630"><text class="t L b" transform="rotate(85.2)" x="-404">Os08g41630</text></g>
</g>
</svg>
